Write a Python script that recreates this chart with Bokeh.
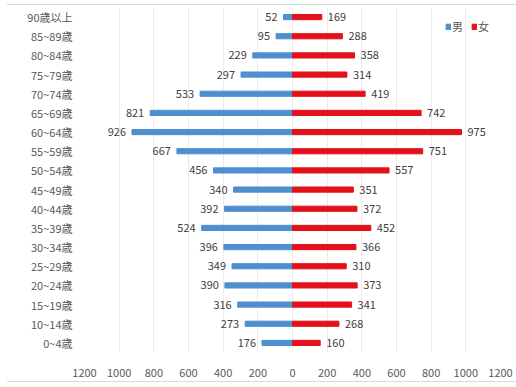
from bokeh.plotting import figure
from bokeh.models import FactorRange, Range1d, FixedTicker, Legend, LegendItem, ColumnDataSource
from bokeh.embed import file_html
from bokeh.resources import INLINE
from bokeh.core.properties import value

# Age groups, top to bottom
age_groups = ["90歳以上", "85~89歳", "80~84歳", "75~79歳", "70~74歳", "65~69歳",
              "60~64歳", "55~59歳", "50~54歳", "45~49歳", "40~44歳", "35~39歳",
              "30~34歳", "25~29歳", "20~24歳", "15~19歳", "10~14歳", "0~4歳"]
male = [52, 95, 229, 297, 533, 821, 926, 667, 456, 340, 392, 524, 396, 349, 390, 316, 273, 176]
female = [169, 288, 358, 314, 419, 742, 975, 751, 557, 351, 372, 452, 366, 310, 373, 341, 268, 160]
tick_values = [-1200, -1000, -800, -600, -400, -200, 0, 200, 400, 600, 800, 1000, 1200]

BLUE = "#4f8fcf"
RED = "#e3111b"
LABEL_FONT = "Noto Sans CJK JP"

src = ColumnDataSource(dict(
    age=age_groups,
    male_neg=[-m for m in male],
    male=male,
    female=female,
    male_txt=[str(m) for m in male],
    female_txt=[str(f) for f in female],
))

p = figure(width=509, height=378,
           y_range=FactorRange(factors=list(reversed(age_groups))),
           x_range=Range1d(-1200, 1200),
           output_backend="svg", toolbar_location=None,
           min_border_left=77, min_border_right=16, min_border_top=2, min_border_bottom=31)
p.styles = {"margin-left": "7px", "margin-top": "4px",
            "border-top": "1px solid #d9d9d9", "border-bottom": "1px solid #d9d9d9"}

r_m = p.hbar(y="age", left="male_neg", right=0, height=0.27, color=BLUE, source=src)
r_f = p.hbar(y="age", left=0, right="female", height=0.27, color=RED, source=src)

p.text(x="male_neg", y="age", text="male_txt", source=src, x_offset=-6,
       text_align="right", text_baseline="middle", text_font=value(LABEL_FONT),
       text_font_size="11px", text_color="#404040")
p.text(x="female", y="age", text="female_txt", source=src, x_offset=6,
       text_align="left", text_baseline="middle", text_font=value(LABEL_FONT),
       text_font_size="11px", text_color="#404040")

# Axes
p.xaxis.ticker = FixedTicker(ticks=tick_values)
p.xaxis.major_label_overrides = {v: str(abs(v)) for v in tick_values}
for ax in (p.xaxis, p.yaxis):
    ax.axis_line_color = None
    ax.major_tick_line_color = None
    ax.minor_tick_line_color = None
    ax.major_tick_out = 0
    ax.major_tick_in = 0
    ax.major_label_text_font = LABEL_FONT
    ax.major_label_text_font_size = "11px"
    ax.major_label_text_color = "#595959"
p.xaxis.major_label_standoff = 16
p.yaxis.major_label_standoff = 12

p.xgrid.ticker = FixedTicker(ticks=tick_values)
p.xgrid.grid_line_color = "#ebebeb"
p.ygrid.grid_line_color = None
p.outline_line_color = None

legend = Legend(items=[LegendItem(label="男", renderers=[r_m]),
                       LegendItem(label="女", renderers=[r_f])],
                location="top_right", orientation="horizontal",
                glyph_width=6, glyph_height=7, label_standoff=1, label_width=10,
                label_height=12, spacing=8,
                padding=2, margin=11, border_line_color=None, background_fill_alpha=0,
                label_text_font=LABEL_FONT, label_text_font_size="11px",
                label_text_color="#595959")
p.add_layout(legend)

open("out.html", "w").write(file_html(p, INLINE))
